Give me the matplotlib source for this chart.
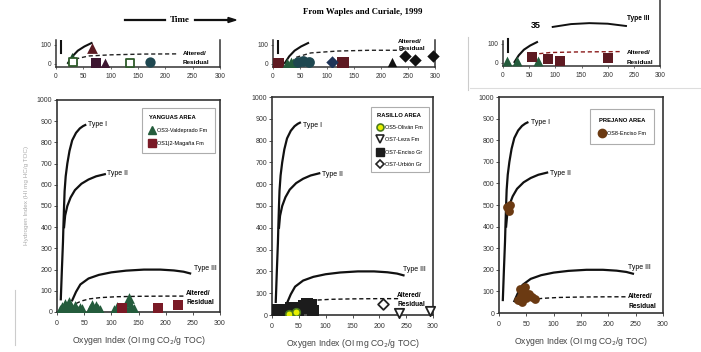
import matplotlib
matplotlib.use('Agg')
import matplotlib.pyplot as plt
from matplotlib.lines import Line2D

W, H = 701, 352
plt.rcParams['font.family'] = ['Liberation Sans', 'DejaVu Sans']

# ---------------- reference curves (OI, HI) ----------------
type1_oi = [7, 9, 11, 12, 13, 14, 16, 19, 23, 28, 35, 42, 48, 52]
type1_hi = [60, 200, 330, 420, 500, 570, 640, 700, 760, 810, 845, 866, 877, 882]
type2_oi = [13, 15, 19, 25, 33, 45, 58, 72, 88]
type2_hi = [400, 455, 500, 540, 575, 605, 625, 640, 650]
type3_oi = [28, 35, 43, 58, 77, 100, 127, 160, 190, 215, 233, 245]
type3_hi = [55, 95, 130, 158, 175, 187, 195, 200, 200, 196, 190, 182]
alt_oi = [35, 45, 60, 80, 110, 150, 200, 235]
alt_hi = [40, 52, 62, 68, 72, 74, 75, 75]

# ---------------- main panel data ----------------
yanguas_os3_oi = [5, 10, 14, 18, 22, 26, 30, 34, 38, 42, 46, 60, 64, 68, 72, 76, 80,
                  105, 110, 125, 130, 133, 136, 142]
yanguas_os3_hi = [10, 25, 40, 15, 45, 20, 10, 30, 5, 20, 15, 15, 35, 10, 30, 15, 10,
                  10, 25, 20, 45, 65, 30, 15]
yanguas_os12_oi = [119, 186, 223]
yanguas_os12_hi = [20, 20, 33]

rasillo_os5_oi = [32, 44]
rasillo_os5_hi = [5, 15]
rasillo_leza_oi = [237, 294]
rasillo_leza_hi = [10, 20]
rasillo_enciso_oi = [5, 12, 18, 24, 30, 36, 42, 48, 54, 60, 66, 72, 76]
rasillo_enciso_hi = [15, 25, 20, 10, 25, 30, 15, 25, 30, 40, 50, 45, 20]
rasillo_urbion_oi = [206]
rasillo_urbion_hi = [50]

prejano_os8_oi = [15, 18, 20, 35, 40, 45, 50, 55, 60, 65, 38, 48, 42]
prejano_os8_hi = [490, 470, 500, 60, 80, 100, 70, 90, 75, 65, 110, 120, 50]

# ---------------- top (Waples & Curiale) panel data ----------------
top1_tri_oi = [29];        top1_tri_hi = [30]
top1_redtri_oi = [66];     top1_redtri_hi = [84]
top1_sq_oi = [73];         top1_sq_hi = [5]
top1_ptri_oi = [90];       top1_ptri_hi = [5]
top1_open_oi = [31, 135];  top1_open_hi = [10, 5]
top1_cloud_oi = [172];     top1_cloud_hi = [10]

top2_sq_oi = [9, 129];     top2_sq_hi = [0, 5]
top2_tri_oi = [26, 33, 37]; top2_tri_hi = [5, 8, 5]
top2_cloud_oi = [46, 56, 67]; top2_cloud_hi = [10, 14, 8]
top2_dia_oi = [109];       top2_dia_hi = [10]
top2_btri_oi = [220];      top2_btri_hi = [10]
top2_bdia_oi = [245, 263, 296]; top2_bdia_hi = [40, 20, 40]

top3_tri_oi = [8, 27, 67]; top3_tri_hi = [10, 10, 10]
top3_sq_oi = [56, 86, 109, 200]; top3_sq_hi = [30, 20, 10, 25]
top3_alt_oi = [56, 90, 140, 226]; top3_alt_hi = [45, 55, 58, 60]
top3_t3_oi = [95, 130, 165, 200, 235]; top3_t3_hi = [190, 205, 210, 207, 195]
top_ramp_oi = [22, 30, 40, 52, 65]; top_ramp_hi = [5, 40, 70, 92, 110]
top_vert_oi = [10, 10]; top_vert_hi = [60, 125]
top1_alt_oi = [35, 60, 100, 160, 221]; top1_alt_hi = [26, 42, 48, 52, 53]
top2_alt_oi = [43, 70, 120, 180, 240]; top2_alt_hi = [35, 58, 68, 72, 72]

x_ticks = [0, 50, 100, 150, 200, 250, 300]
y_ticks = [0, 100, 200, 300, 400, 500, 600, 700, 800, 900, 1000]

GREEN = '#245c3c'
MAROON = '#7a1a26'
BROWN = '#6b3a12'
TEAL = '#1e4750'
NAVY = '#1f3559'

fig = plt.figure(figsize=(W / 100, H / 100), dpi=100)


def ax_px(left, top, right, bottom):
    return fig.add_axes([left / W, 1 - bottom / H, (right - left) / W, (bottom - top) / H])


def style_main(ax):
    ax.set_xlim(0, 300)
    ax.set_ylim(0, 1000)
    ax.set_xticks(x_ticks)
    ax.set_yticks(y_ticks)
    ax.tick_params(labelsize=5, length=2, width=0.6, direction='out', colors='#333', pad=1.5)
    ax.tick_params(axis='x', pad=4)
    for s in ax.spines.values():
        s.set_color('#333')
        s.set_linewidth(1.2)
    ax.set_xlabel('Oxygen Index (OI mg CO$_2$/g TOC)', fontsize=6.2, color='#444', labelpad=5)


def curves(ax, labels):
    ax.plot(type1_oi, type1_hi, color='#111', lw=1.6, zorder=2)
    ax.plot(type2_oi, type2_hi, color='#111', lw=1.6, zorder=2)
    ax.plot(type3_oi, type3_hi, color='#111', lw=1.6, zorder=2)
    ax.plot(alt_oi, alt_hi, color='#111', lw=1.0, ls=(0, (3, 2)), zorder=2)
    (t1, t2, t3, a1, a2) = labels
    ax.text(t1[0], t1[1], 'Type I', fontsize=5, va='center')
    ax.text(t2[0], t2[1], 'Type II', fontsize=5, va='center')
    ax.text(t3[0], t3[1], 'Type III', fontsize=5, va='center')
    ax.text(a1[0], a1[1], 'Altered/', fontsize=4.8, fontweight='bold', va='center')
    ax.text(a2[0], a2[1], 'Residual', fontsize=4.8, fontweight='bold', va='center')


def legend(ax, handles, names, title, anchor, bpad=1.3, lspace=1.4):
    lg = ax.legend(handles, names, title=title, loc='upper right', bbox_to_anchor=anchor,
                   fontsize=4, title_fontsize=4.2, frameon=True, fancybox=False,
                   edgecolor='#999', borderpad=bpad, labelspacing=lspace, handletextpad=0.3,
                   handlelength=1.2, alignment='left')
    lg.get_title().set_fontweight('bold')
    lg.get_frame().set_linewidth(0.8)


# ---------------- main panel 1 ----------------
ax1 = ax_px(57, 100, 220, 312)
style_main(ax1)
curves(ax1, ((57, 885), (92, 655), (252, 205), (238, 88), (238, 45)))
ax1.scatter(yanguas_os3_oi, yanguas_os3_hi, marker='^', s=60, color=GREEN, zorder=3, lw=0)
ax1.scatter(yanguas_os12_oi, yanguas_os12_hi, marker='s', s=50, color=MAROON, zorder=3, lw=0)
legend(ax1,
       [Line2D([], [], marker='^', ls='', color=GREEN, ms=6),
        Line2D([], [], marker='s', ls='', color=MAROON, ms=5.5)],
       ['OS3-Valdeprado Fm', 'OS1|2-Magaña Fm'], 'YANGUAS AREA', (0.985, 0.975))

# ---------------- main panel 2 ----------------
ax2 = ax_px(272, 97, 433, 315)
style_main(ax2)
curves(ax2, ((58, 870), (93, 645), (244, 210), (233, 88), (233, 46)))
ax2.scatter(rasillo_enciso_oi, rasillo_enciso_hi, marker='s', s=75, color='#1c1c1c', zorder=3, lw=0)
ax2.scatter(rasillo_os5_oi, rasillo_os5_hi, marker='o', s=30, color='#e6ef00', edgecolor='#4b7a1c', lw=1.2, zorder=4)
ax2.scatter(rasillo_leza_oi, rasillo_leza_hi, marker='v', s=45, facecolor='white', edgecolor='#222', lw=1.3, zorder=4, clip_on=False)
ax2.scatter(rasillo_urbion_oi, rasillo_urbion_hi, marker='D', s=30, facecolor='white', edgecolor='#222', lw=1.3, zorder=4)
legend(ax2,
       [Line2D([], [], marker='o', ls='', mfc='#e6ef00', mec='#4b7a1c', mew=1.2, ms=5),
        Line2D([], [], marker='v', ls='', mfc='white', mec='#222', mew=1.2, ms=5.5),
        Line2D([], [], marker='s', ls='', color='#1c1c1c', ms=5.5),
        Line2D([], [], marker='D', ls='', mfc='white', mec='#222', mew=1.2, ms=4.5)],
       ['OS5-Oliván Fm', 'OS7-Leza Fm', 'OS7-Enciso Gr', 'OS7-Urbión Gr'],
       'RASILLO AREA', (0.99, 0.965), bpad=1.0, lspace=1.3)

# ---------------- main panel 3 ----------------
ax3 = ax_px(499, 97, 663, 313)
style_main(ax3)
curves(ax3, ((58, 880), (93, 645), (236, 210), (236, 75), (236, 32)))
ax3.scatter(prejano_os8_oi, prejano_os8_hi, marker='o', s=40, color=BROWN, zorder=3, lw=0)
legend(ax3,
       [Line2D([], [], marker='o', ls='', color=BROWN, ms=6)],
       ['OS8-Enciso Fm'], 'PREJANO AREA', (0.965, 0.955), bpad=1.5, lspace=1.4)

# ---------------- top small panels ----------------
def style_top(ax, ylo, yhi, left_top):
    ax.set_xlim(0, 300)
    ax.set_ylim(ylo, yhi)
    ax.set_xticks(x_ticks)
    ax.set_yticks([0, 100])
    ax.tick_params(labelsize=4.8, length=1.5, width=0.5, colors='#333', pad=1.5)
    ax.tick_params(axis='x', pad=3)
    ax.spines['top'].set_visible(False)
    ax.spines['left'].set_bounds(ylo, left_top)
    for s in ('left', 'right', 'bottom'):
        ax.spines[s].set_color('#333')
        ax.spines[s].set_linewidth(1.1)
    ax.patch.set_alpha(0)


def top_curves(ax, alt_x, alt_y, alt_color='#222'):
    ax.plot(top_vert_oi, top_vert_hi, color='#111', lw=1.5)
    ax.plot(top_ramp_oi, top_ramp_hi, color='#111', lw=1.5)
    ax.plot(alt_x, alt_y, color=alt_color, lw=1.0, ls=(0, (3, 2)))


t1 = ax_px(56, 40, 220, 67)
style_top(t1, -16, 126, 126)
top_curves(t1, top1_alt_oi, top1_alt_hi)
t1.scatter(top1_tri_oi, top1_tri_hi, marker='^', s=65, color='#1e4a2c', zorder=3, lw=0)
t1.scatter(top1_redtri_oi, top1_redtri_hi, marker='^', s=60, color='#5a1a22', zorder=3, lw=0)
t1.scatter(top1_sq_oi, top1_sq_hi, marker='s', s=60, color='#3d1631', zorder=3, lw=0)
t1.scatter(top1_ptri_oi, top1_ptri_hi, marker='^', s=50, color='#3d1631', zorder=3, lw=0)
t1.scatter(top1_open_oi, top1_open_hi, marker='s', s=35, facecolor='white', edgecolor='#2e5a2a', lw=1.3, zorder=3)
t1.scatter(top1_cloud_oi, top1_cloud_hi, marker='o', s=55, color=TEAL, zorder=3, lw=0)
t1.text(232, 53, 'Altered/', fontsize=4.6, fontweight='bold', va='center')
t1.text(232, 8, 'Residual', fontsize=4.6, fontweight='bold', va='center')

t2 = ax_px(273, 40, 435, 67)
style_top(t2, -16, 126, 126)
top_curves(t2, top2_alt_oi, top2_alt_hi)
t2.scatter(top2_sq_oi, top2_sq_hi, marker='s', s=65, color='#5e1a22', zorder=3, lw=0)
t2.scatter(top2_tri_oi, top2_tri_hi, marker='^', s=50, color=GREEN, zorder=3, lw=0)
t2.scatter(top2_cloud_oi, top2_cloud_hi, marker='o', s=60, color=TEAL, zorder=3, lw=0)
t2.scatter(top2_dia_oi, top2_dia_hi, marker='D', s=40, color=NAVY, zorder=3, lw=0)
t2.scatter(top2_btri_oi, top2_btri_hi, marker='^', s=45, color='#111', zorder=3, lw=0)
t2.scatter(top2_bdia_oi, top2_bdia_hi, marker='D', s=40, color='#111', zorder=3, lw=0, clip_on=False)
t2.text(232, 118, 'Altered/', fontsize=4.6, fontweight='bold', va='center')
t2.text(232, 82, 'Residual', fontsize=4.6, fontweight='bold', va='center')

t3 = ax_px(503, 0, 660, 66)
style_top(t3, -16, 332, 115)
top_curves(t3, top3_alt_oi, top3_alt_hi, alt_color='#8a1a1a')
t3.plot(top3_t3_oi, top3_t3_hi, color='#111', lw=1.4)
t3.scatter(top3_tri_oi, top3_tri_hi, marker='^', s=50, color=GREEN, zorder=3, lw=0)
t3.scatter(top3_sq_oi, top3_sq_hi, marker='s', s=55, color='#5e1a22', zorder=3, lw=0)
t3.text(237, 237, 'Type III', fontsize=4.8, fontweight='bold', va='center')
t3.text(62, 200, '35', fontsize=6.5, fontweight='bold', va='center', ha='center')
t3.text(237, 53, 'Altered/', fontsize=4.6, fontweight='bold', va='center')
t3.text(237, 5, 'Residual', fontsize=4.6, fontweight='bold', va='center')

# ---------------- titles / annotations ----------------
fig.text(363 / W, 1 - 12 / H, 'From Waples and Curiale, 1999', fontsize=6.3,
         fontweight='bold', family='Liberation Serif', ha='center', va='center')
fig.text(180 / W, 1 - 20 / H, 'Time', fontsize=6.5, fontweight='bold',
         family='Liberation Serif', ha='center', va='center')
fig.add_artist(Line2D([125 / W, 165 / W], [1 - 20 / H, 1 - 20 / H], color='#111', lw=1.6))
fig.add_artist(Line2D([195 / W, 228 / W], [1 - 20 / H, 1 - 20 / H], color='#111', lw=1.6))
fig.add_artist(plt.Polygon([[228 / W, 1 - 17.5 / H], [236 / W, 1 - 20 / H], [228 / W, 1 - 22.5 / H]],
                           closed=True, color='#111', transform=fig.transFigure))
fig.text(27 / W, 1 - 195 / H, 'Hydrogen Index (HI mg HC/g TOC)', fontsize=4.6, rotation=90,
         color='#aaa', ha='center', va='center')

# faint separator lines from the scanned page
fig.add_artist(Line2D([468 / W, 468 / W], [1 - 37 / H, 1 - 90 / H], color='#ccc', lw=0.8))
fig.add_artist(Line2D([470 / W, 700 / W], [1 - 88 / H, 1 - 88 / H], color='#ddd', lw=0.8))
fig.add_artist(Line2D([15 / W, 15 / W], [1 - 290 / H, 1 - 345 / H], color='#ccc', lw=0.8))

fig.savefig('out.png', dpi=100)
